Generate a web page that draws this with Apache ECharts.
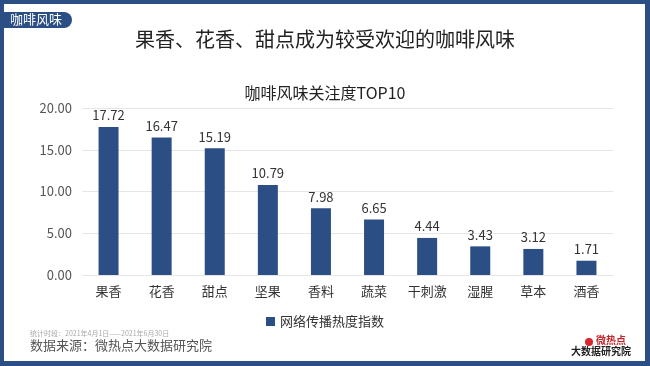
<!DOCTYPE html>
<html><head><meta charset="utf-8">
<script src="https://cdn.jsdelivr.net/npm/echarts@6/dist/echarts.min.js"></script>
<style>html,body{margin:0;padding:0;background:#fff}#c{width:650px;height:366px}</style>
</head><body><div id="c"></div>
<script>
const categories = ['果香','花香','甜点','坚果','香料','蔬菜','干刺激','湿腥','草本','酒香'];
const values = [17.72,16.47,15.19,10.79,7.98,6.65,4.44,3.43,3.12,1.71];
const seriesName = '网络传播热度指数';
const yTicks = [0,5,10,15,20];

const FONT = '"Noto Sans CJK SC","Noto Sans",sans-serif';
const BLUE = '#2b4f85';
const chart = echarts.init(document.getElementById('c'));
chart.setOption({
  animation:false,
  textStyle:{fontFamily:FONT},
  title:[
    {text:'果香、花香、甜点成为较受欢迎的咖啡风味',left:'center',top:24,textStyle:{fontSize:20,fontWeight:'normal',color:'#222',fontFamily:FONT}},
    {text:'咖啡风味关注度TOP10',left:'center',top:80,textStyle:{fontSize:16,fontWeight:'normal',color:'#222',fontFamily:FONT}}
  ],
  legend:{data:[seriesName],top:310,left:'center',itemWidth:9,itemHeight:9,icon:'rect',textStyle:{fontSize:13,color:'#333',fontFamily:FONT}},
  grid:{left:82,right:37,top:108,bottom:91},
  xAxis:{type:'category',data:categories,axisLine:{show:false},axisTick:{show:false},
    axisLabel:{fontSize:13,color:'#333',margin:10,fontFamily:FONT}},
  yAxis:{type:'value',min:yTicks[0],max:yTicks[yTicks.length-1],interval:5,
    axisLabel:{formatter:v=>v.toFixed(2),fontSize:13,color:'#555',margin:10,fontFamily:FONT},
    splitLine:{lineStyle:{color:'#e6e6e6'}},axisLine:{show:false},axisTick:{show:false}},
  series:[{name:seriesName,type:'bar',data:values,barWidth:20,itemStyle:{color:BLUE},
    label:{show:true,position:'top',distance:5,formatter:p=>p.value.toFixed(2),fontSize:13,color:'#333',fontFamily:FONT}}],
  graphic:[
    {type:'rect',shape:{x:0,y:0,width:650,height:4},style:{fill:BLUE}},
    {type:'rect',shape:{x:0,y:0,width:4,height:366},style:{fill:BLUE}},
    {type:'rect',shape:{x:645,y:0,width:5,height:366},style:{fill:BLUE}},
    {type:'rect',shape:{x:0,y:361,width:650,height:5},style:{fill:BLUE}},
    {type:'rect',shape:{x:0,y:12,width:72,height:16,r:[0,8,8,0]},style:{fill:BLUE}},
    {type:'text',x:10,y:13,style:{text:'咖啡风味',fill:'#fff',font:'13px '+FONT}},
    {type:'text',x:30,y:330,style:{text:'统计时段：2021年4月1日——2021年6月30日',fill:'#aaa',font:'7px '+FONT}},
    {type:'text',x:30,y:339,style:{text:'数据来源：微热点大数据研究院',fill:'#555',font:'13px '+FONT}},
    {type:'circle',shape:{cx:589,cy:342,r:4},style:{fill:'#d8262c'}},
    {type:'text',x:596,y:335,style:{text:'微热点',fill:'#c0272d',font:'bold 10px '+FONT}},
    {type:'text',x:571,y:346,style:{text:'大数据研究院',fill:'#222',font:'bold 10px '+FONT}}
  ]
});
</script></body></html>
